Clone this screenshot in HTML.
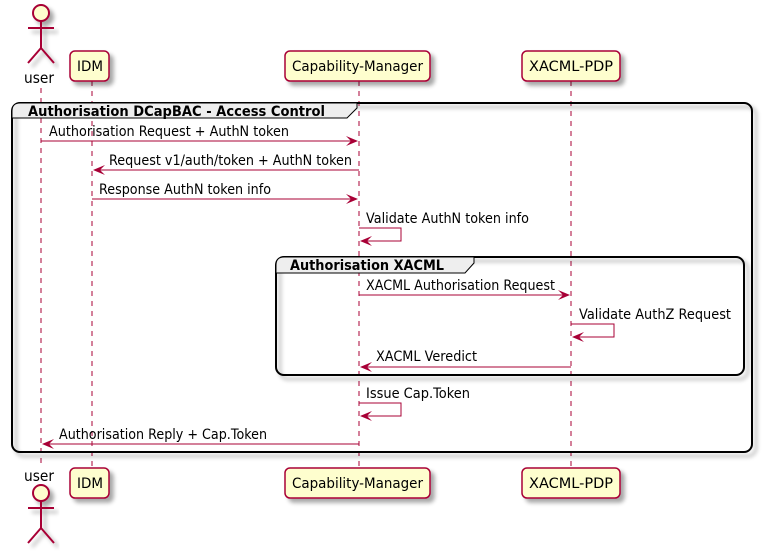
<!DOCTYPE html>
<html><head><style>
html,body{margin:0;padding:0;background:#fff;}
svg{display:block;}
text{font-family:"DejaVu Sans","Liberation Sans",sans-serif;font-size:14px;fill:#000;}
.b{font-weight:bold;}
</style></head><body>
<svg width="763" height="556" viewBox="0 0 763 556" xmlns="http://www.w3.org/2000/svg">
<defs>
<filter id="sh" x="-20%" y="-20%" width="140%" height="140%"><feGaussianBlur in="SourceAlpha" stdDeviation="2"/><feOffset dx="4" dy="4"/><feComponentTransfer><feFuncA type="linear" slope="0.35"/></feComponentTransfer><feMerge><feMergeNode/><feMergeNode in="SourceGraphic"/></feMerge></filter>
</defs>
<g stroke="#A80036" stroke-dasharray="5,5" stroke-width="1">
<line x1="41" y1="88" x2="41" y2="466"/>
<line x1="92" y1="81" x2="92" y2="467"/>
<line x1="359" y1="81" x2="359" y2="467"/>
<line x1="571" y1="81" x2="571" y2="467"/>
</g>
<rect x="12" y="103" width="740" height="349" rx="8" fill="none" stroke="#000" stroke-width="2" filter="url(#sh)"/>
<path d="M12,118 L12,111 Q12,103 20,103 L357,103 L357,108 L347,118 Z" fill="#EEEEEE" stroke="#000" stroke-width="1"/>
<text x="28" y="116" class="b" textLength="297" lengthAdjust="spacingAndGlyphs">Authorisation DCapBAC - Access Control</text>
<rect x="276" y="257" width="468" height="118" rx="8" fill="none" stroke="#000" stroke-width="2" filter="url(#sh)"/>
<path d="M276,273 L276,265 Q276,257 284,257 L474,257 L474,263 L465,273 Z" fill="#EEEEEE" stroke="#000"/>
<text x="290" y="270" class="b" textLength="154" lengthAdjust="spacingAndGlyphs">Authorisation XACML</text>
<g fill="#FEFECE" stroke="#A80036" stroke-width="1.5" filter="url(#sh)">
<rect x="70" y="51" width="39" height="30" rx="5"/>
<rect x="285" y="51" width="145" height="30" rx="5"/>
<rect x="522" y="51" width="98" height="30" rx="5"/>
<rect x="70" y="468" width="39" height="30" rx="5"/>
<rect x="285" y="468" width="145" height="30" rx="5"/>
<rect x="522" y="468" width="98" height="30" rx="5"/>
</g>
<text x="77" y="71" textLength="26" lengthAdjust="spacingAndGlyphs">IDM</text><text x="292" y="71" textLength="131" lengthAdjust="spacingAndGlyphs">Capability-Manager</text><text x="529" y="71" textLength="84" lengthAdjust="spacingAndGlyphs">XACML-PDP</text>
<text x="77" y="488" textLength="26" lengthAdjust="spacingAndGlyphs">IDM</text><text x="292" y="488" textLength="131" lengthAdjust="spacingAndGlyphs">Capability-Manager</text><text x="529" y="488" textLength="84" lengthAdjust="spacingAndGlyphs">XACML-PDP</text>
<g stroke="#A80036" stroke-width="2" fill="#FEFECE" filter="url(#sh)">
<circle cx="41" cy="13" r="8"/>
<path d="M41,21 L41,48 M28,28 L54,28 M41,48 L28,63 M41,48 L54,63" fill="none"/>
<circle cx="41" cy="493" r="8"/>
<path d="M41,501 L41,528 M28,508 L54,508 M41,528 L28,543 M41,528 L54,543" fill="none"/>
</g>
<text x="24" y="83" style="font-size:15px" textLength="30" lengthAdjust="spacingAndGlyphs">user</text>
<text x="24" y="481" style="font-size:15px" textLength="30" lengthAdjust="spacingAndGlyphs">user</text>
<g stroke="#A80036" stroke-width="1" fill="none">
<line x1="41" y1="141" x2="357" y2="141"/>
<line x1="94" y1="170" x2="359" y2="170"/>
<line x1="92" y1="199" x2="357" y2="199"/>
<path d="M359,228 L401,228 L401,241 L361,241"/>
<line x1="359" y1="295" x2="569" y2="295"/>
<path d="M571,324 L614,324 L614,337 L573,337"/>
<line x1="361" y1="367" x2="571" y2="367"/>
<path d="M359,403 L401,403 L401,416 L361,416"/>
<line x1="43" y1="444" x2="359" y2="444"/>
</g>
<g fill="#A80036">
<path d="M358,141 L346,136 L351,141 L346,146 Z"/>
<path d="M93,170 L105,165 L100,170 L105,175 Z"/>
<path d="M358,199 L346,194 L351,199 L346,204 Z"/>
<path d="M360,241 L372,236 L367,241 L372,246 Z"/>
<path d="M570,295 L558,290 L563,295 L558,300 Z"/>
<path d="M572,337 L584,332 L579,337 L584,342 Z"/>
<path d="M360,367 L372,362 L367,367 L372,372 Z"/>
<path d="M360,416 L372,411 L367,416 L372,421 Z"/>
<path d="M42,444 L54,439 L49,444 L54,449 Z"/>
</g>
<text x="49" y="136" textLength="240" lengthAdjust="spacingAndGlyphs">Authorisation Request + AuthN token</text>
<text x="109" y="165" textLength="243" lengthAdjust="spacingAndGlyphs">Request v1/auth/token + AuthN token</text>
<text x="99" y="194" textLength="172" lengthAdjust="spacingAndGlyphs">Response AuthN token info</text>
<text x="366" y="223" textLength="163" lengthAdjust="spacingAndGlyphs">Validate AuthN token info</text>
<text x="366" y="290" textLength="189" lengthAdjust="spacingAndGlyphs">XACML Authorisation Request</text>
<text x="579" y="319" textLength="152" lengthAdjust="spacingAndGlyphs">Validate AuthZ Request</text>
<text x="376" y="361" textLength="101" lengthAdjust="spacingAndGlyphs">XACML Veredict</text>
<text x="366" y="398" textLength="104" lengthAdjust="spacingAndGlyphs">Issue Cap.Token</text>
<text x="59" y="439" textLength="208" lengthAdjust="spacingAndGlyphs">Authorisation Reply + Cap.Token</text>
</svg>
</body></html>
